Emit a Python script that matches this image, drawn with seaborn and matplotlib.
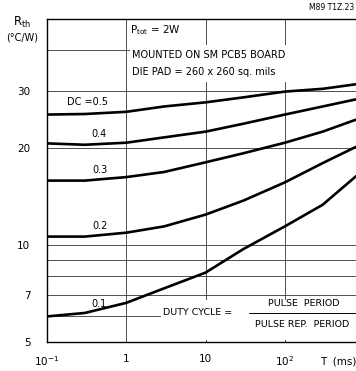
import numpy as np
import pandas as pd
import matplotlib
matplotlib.use('Agg')
import matplotlib.pyplot as plt
import seaborn as sns
from matplotlib.patches import Rectangle

# pulse duration T (ms) and thermal resistance (degC/W) per duty cycle
T = [0.1, 0.3, 1, 3, 10, 30, 100, 300, 790]
dc05 = [25.3, 25.4, 25.8, 26.8, 27.6, 28.6, 29.8, 30.4, 31.4]
dc04 = [20.6, 20.4, 20.7, 21.5, 22.4, 23.7, 25.3, 26.8, 28.2]
dc03 = [15.8, 15.8, 16.2, 16.8, 18.0, 19.2, 20.7, 22.4, 24.4]
dc02 = [10.6, 10.6, 10.9, 11.4, 12.4, 13.7, 15.6, 17.9, 20.1]
dc01 = [6.0, 6.15, 6.61, 7.33, 8.2, 9.7, 11.4, 13.3, 16.3]
dc_names = ['0.5', '0.4', '0.3', '0.2', '0.1']
dc_labels = ['DC =0.5', '0.4', '0.3', '0.2', '0.1']

ytick_vals = [5, 6, 7, 8, 9, 10, 20, 30, 40]
ytick_labels = ['5', '', '7', '', '', '10', '20', '30', '']
xtick_vals = [0.1, 1, 10, 100]
xtick_labels = ['10$^{-1}$', '1', '10', '10$^2$']

rows = []
for name, vals in zip(dc_names, [dc05, dc04, dc03, dc02, dc01]):
    for t, v in zip(T, vals):
        rows.append({'T': t, 'Rth': v, 'DC': name})
df = pd.DataFrame(rows)

sns.set_style('white')
plt.rcParams['font.family'] = ['DejaVu Sans']
plt.rcParams['text.color'] = 'black'

fig = plt.figure(figsize=(3.56, 3.71), dpi=100)
ax = fig.add_axes([47/356, 29/371, 1 - 47/356, 323/371])

sns.lineplot(data=df, x='T', y='Rth', hue='DC', hue_order=dc_names,
             palette=['black']*5, linewidth=1.9, legend=False, ax=ax, zorder=3)

ax.set_xscale('log')
ax.set_yscale('log')
ax.set_xlim(0.1, 790)
ax.set_ylim(5, 50)
ax.set_yticks(ytick_vals)
ax.set_yticklabels(ytick_labels)
ax.yaxis.set_minor_locator(matplotlib.ticker.NullLocator())
ax.set_xticks(xtick_vals)
ax.set_xticklabels(xtick_labels)
ax.xaxis.set_minor_locator(matplotlib.ticker.NullLocator())
ax.tick_params(axis='both', length=0, labelsize=7.5, colors='black')
ax.tick_params(axis='y', pad=12)
ax.tick_params(axis='x', pad=9)
ax.grid(True, color='#333333', linewidth=0.6)
ax.set_xlabel('')
ax.set_ylabel('')
for s in ['left', 'top', 'bottom']:
    ax.spines[s].set_color('black')
    ax.spines[s].set_linewidth(1.0)
ax.spines['right'].set_visible(False)

# white areas holding the notes
ax.add_patch(Rectangle((0.27, 0.805), 0.74, 0.115, transform=ax.transAxes,
                       facecolor='white', edgecolor='none', zorder=2))
ax.add_patch(Rectangle((0.37, 0.005), 0.64, 0.125, transform=ax.transAxes,
                       facecolor='white', edgecolor='none', zorder=2))

ax.text(0.27, 0.965, r'P$_{\mathrm{tot}}$ = 2W', transform=ax.transAxes,
        fontsize=7.5, va='center', ha='left', zorder=4)
ax.text(0.275, 0.89, 'MOUNTED ON SM PCB5 BOARD', transform=ax.transAxes,
        fontsize=7, va='center', ha='left', zorder=4)
ax.text(0.275, 0.835, 'DIE PAD = 260 x 260 sq. mils', transform=ax.transAxes,
        fontsize=7, va='center', ha='left', zorder=4)

ax.text(0.375, 0.092, 'DUTY CYCLE =', transform=ax.transAxes,
        fontsize=6.8, va='center', ha='left', zorder=4)
ax.plot([0.655, 1.0], [0.09, 0.09], transform=ax.transAxes, color='black',
        linewidth=0.7, zorder=4)
ax.text(0.83, 0.12, 'PULSE  PERIOD', transform=ax.transAxes,
        fontsize=6.8, va='center', ha='center', zorder=4)
ax.text(0.825, 0.054, 'PULSE REP.  PERIOD', transform=ax.transAxes,
        fontsize=6.8, va='center', ha='center', zorder=4)

# curve labels
label_pos = [(0.58, 27.6), (0.57, 22.1), (0.58, 17.1), (0.58, 11.4), (0.57, 6.55)]
for lab, (lx, ly) in zip(dc_labels, label_pos):
    ax.text(lx, ly, lab, fontsize=7, ha='right', va='center', zorder=4)

fig.text(22/356, 1 - 22/371, r'R$_{\mathrm{th}}$', fontsize=8.5, ha='center', va='center')
fig.text(22/356, 1 - 38/371, '(°C/W)', fontsize=7, ha='center', va='center')
fig.text(1 - 2/356, 1 - 7/371, 'M89 T1Z.23', fontsize=5.5, ha='right', va='center')
fig.text(338/356, 1 - 362/371, 'T  (ms)', fontsize=7.5, ha='center', va='center')

fig.savefig('out.png', dpi=100)
